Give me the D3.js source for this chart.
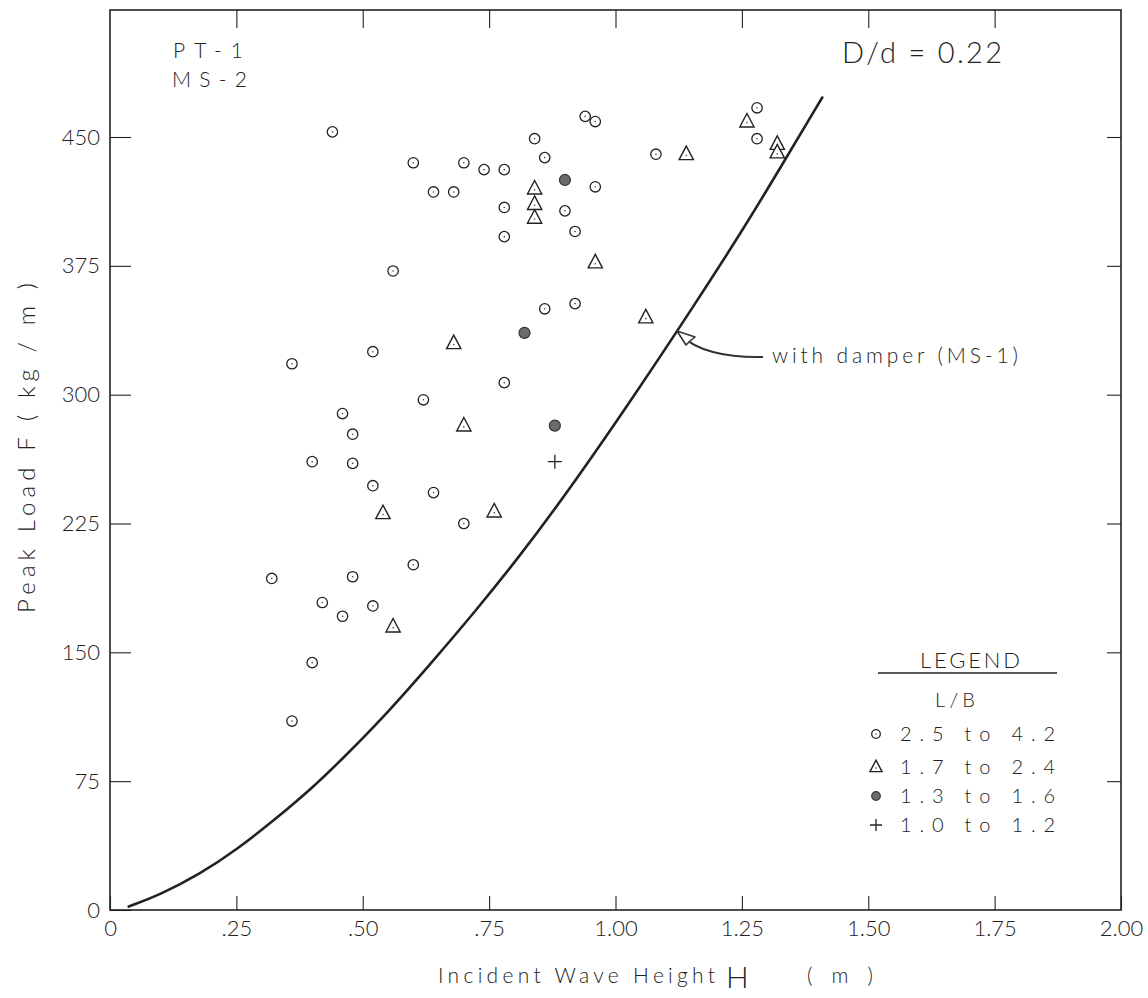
<!DOCTYPE html>
<html><head><meta charset="utf-8">
<script src="https://cdn.jsdelivr.net/npm/d3@7/dist/d3.min.js"></script>
<style>
html,body{margin:0;padding:0;background:#fff;}
svg text{font-family:Lato,"DejaVu Sans",sans-serif;font-weight:300;fill:#222;}
</style></head>
<body>
<svg id="chart" width="1148" height="998"></svg>
<script>
// ---- data ----
const xTicks = [0, 0.25, 0.5, 0.75, 1.0, 1.25, 1.5, 1.75, 2.0];
const xTickLabels = ["0", ".25", ".50", ".75", "1.00", "1.25", "1.50", "1.75", "2.00"];
const yTicks = [0, 75, 150, 225, 300, 375, 450];

// L/B 2.5 to 4.2 (open circles) [H, F]
const circleH = [0.44,0.60,0.70,0.74,0.78,0.84,0.86,0.94,0.96,0.64,0.68,0.78,0.90,0.96,0.92,0.78,0.56,1.08,1.28,1.28,0.86,0.92,0.52,0.36,0.78,0.62,0.46,0.48,0.40,0.48,0.52,0.64,0.70,0.60,0.32,0.48,0.42,0.46,0.52,0.40,0.36];
const circleF = [453,435,435,431,431,449,438,462,459,418,418,409,407,421,395,392,372,440,467,449,350,353,325,318,307,297,289,277,261,260,247,243,225,201,193,194,179,171,177,144,110];
// L/B 1.7 to 2.4 (triangles)
const triH = [0.84,0.84,0.84,0.96,1.14,1.26,1.32,1.32,1.06,0.68,0.70,0.54,0.76,0.56];
const triF = [420,411,403,377,440,459,446,441,345,330,282,231,232,165];
// L/B 1.3 to 1.6 (filled circles)
const fillH = [0.90,0.82,0.88];
const fillF = [425,336,282];
// L/B 1.0 to 1.2 (plus)
const plusH = [0.88];
const plusF = [261];
// "with damper (MS-1)" curve
const curveH = [0.037,0.10,0.178,0.25,0.332,0.40,0.460,0.55,0.642,0.72,0.800,0.90,1.041,1.160,1.250,1.330,1.409];
const curveF = [2,9,21,35,54,71,88,115,146,173,202,241,301,354,395,434,473];

const legendLabels = ["2.5  to  4.2", "1.7  to  2.4", "1.3  to  1.6", "1.0  to  1.2"];
const legendKinds = ["circle", "tri", "fill", "plus"];

// ---- chart ----
const svg = d3.select("#chart");
const x = d3.scaleLinear().domain([0, 2]).range([110, 1121]);
const y = d3.scaleLinear().domain([0, 450]).range([910, 137]);
const yTop = y.invert(10);
const ink = "#222";

// frame
svg.append("rect").attr("x", x(0)).attr("y", y(yTop))
  .attr("width", x(2) - x(0)).attr("height", y(0) - y(yTop))
  .attr("fill", "none").attr("stroke", ink).attr("stroke-width", 1.6);

function styleAxis(g){
  g.select(".domain").remove();
  g.selectAll(".tick line").attr("stroke", ink).attr("stroke-width", 1.1);
  g.selectAll(".tick text").style("font-size", "22px").attr("fill", "#222");
}
svg.append("g").attr("transform", `translate(${x(0)},0)`)
  .call(d3.axisLeft(y).tickValues(yTicks).tickSizeInner(-21).tickSizeOuter(0).tickPadding(10).tickFormat(d3.format("d")))
  .call(styleAxis);
svg.append("g").attr("transform", `translate(${x(2)},0)`)
  .call(d3.axisRight(y).tickValues(yTicks.slice(1)).tickSizeInner(-14).tickSizeOuter(0).tickFormat(""))
  .call(styleAxis);
svg.append("g").attr("transform", `translate(0,${y(0)})`)
  .call(d3.axisBottom(x).tickValues(xTicks).tickSizeInner(-14).tickSizeOuter(0).tickPadding(10)
    .tickFormat((d,i) => xTickLabels[i]))
  .call(styleAxis);
svg.append("g").attr("transform", `translate(0,${y(yTop)})`)
  .call(d3.axisTop(x).tickValues(xTicks.slice(1, -1)).tickSizeInner(-18).tickSizeOuter(0).tickFormat(""))
  .call(styleAxis);

// curve
const curvePts = curveH.map((h, i) => [h, curveF[i]]);
svg.append("path").datum(curvePts)
  .attr("d", d3.line().x(d => x(d[0])).y(d => y(d[1])).curve(d3.curveBasis))
  .attr("fill", "none").attr("stroke", ink).attr("stroke-width", 2.6).attr("stroke-linecap", "round");

// markers
function drawCircle(g, cx, cy, r){
  g.append("circle").attr("cx", cx).attr("cy", cy).attr("r", r)
    .attr("fill", "#fff").attr("stroke", ink).attr("stroke-width", 1.3);
  g.append("circle").attr("cx", cx).attr("cy", cy).attr("r", 0.8).attr("fill", "#444");
}
function drawTri(g, cx, cy, s){
  g.append("path").attr("d", `M${cx},${cy - s*0.62}L${cx + s*0.55},${cy + s*0.42}L${cx - s*0.55},${cy + s*0.42}Z`)
    .attr("fill", "#fff").attr("stroke", ink).attr("stroke-width", 1.4);
  g.append("circle").attr("cx", cx).attr("cy", cy + s*0.1).attr("r", 0.8).attr("fill", "#444");
}
function drawFill(g, cx, cy, r){
  g.append("circle").attr("cx", cx).attr("cy", cy).attr("r", r)
    .attr("fill", "#6b6b6b").attr("stroke", "#333").attr("stroke-width", 1.2);
}
function drawPlus(g, cx, cy, a){
  g.append("path").attr("d", `M${cx - a},${cy}H${cx + a}M${cx},${cy - a}V${cy + a}`)
    .attr("stroke", ink).attr("stroke-width", 1.3).attr("fill", "none");
}
const mk = svg.append("g");
circleH.forEach((h, i) => drawCircle(mk, x(h), y(circleF[i]), 5.2));
triH.forEach((h, i) => drawTri(mk, x(h), y(triF[i]), 13));
fillH.forEach((h, i) => drawFill(mk, x(h), y(fillF[i]), 5.5));
plusH.forEach((h, i) => drawPlus(mk, x(h), y(plusF[i]), 7));

// annotations
function txt(t, px, py, size, opts = {}){
  const e = svg.append("text").attr("x", px).attr("y", py).style("font-size", size + "px").text(t);
  if (opts.len) e.attr("textLength", opts.len).attr("lengthAdjust", "spacing");
  if (opts.anchor) e.attr("text-anchor", opts.anchor);
  return e;
}
txt("PT-1", 173, 58, 21, {len: 70});
txt("MS-2", 172, 87, 21, {len: 75});
txt("D/d = 0.22", 842, 63, 29, {len: 160});
txt("with damper (MS-1)", 772, 363, 21, {len: 246});

// arrow to curve
svg.append("path").attr("d", "M763,357 C725,358 695,350 681,335")
  .attr("fill", "none").attr("stroke", "#333").attr("stroke-width", 2);
svg.append("path").attr("d", "M677,331 L695,337 L690,341 L686,345 Z")
  .attr("fill", "#fff").attr("stroke", "#333").attr("stroke-width", 1.6).attr("stroke-linejoin", "round");

// axis titles
txt("Peak Load  F  ( kg / m )", 0, 0, 24, {len: 330})
  .attr("transform", "translate(35,613) rotate(-90)");
txt("Incident Wave Height", 438, 983, 21, {len: 277});
txt("H", 726, 988, 30, {len: 44});
txt("( m )", 807, 983, 21, {len: 66});

// legend
txt("LEGEND", 920, 668, 22, {len: 100});
svg.append("line").attr("x1", 878).attr("x2", 1057).attr("y1", 673).attr("y2", 673)
  .attr("stroke", ink).attr("stroke-width", 1.4);
txt("L/B", 935, 707, 20, {len: 40});
const rowY = [734, 767, 796, 825];
legendLabels.forEach((lab, i) => {
  const cy = rowY[i];
  const k = legendKinds[i];
  if (k === "circle") drawCircle(svg, 876, cy, 4.3);
  if (k === "tri") drawTri(svg, 876, cy, 11);
  if (k === "fill") drawFill(svg, 876, cy, 4.3);
  if (k === "plus") drawPlus(svg, 876, cy, 6);
  txt(lab, 900, cy + 7, 20, {len: 155});
});
</script>
</body></html>
